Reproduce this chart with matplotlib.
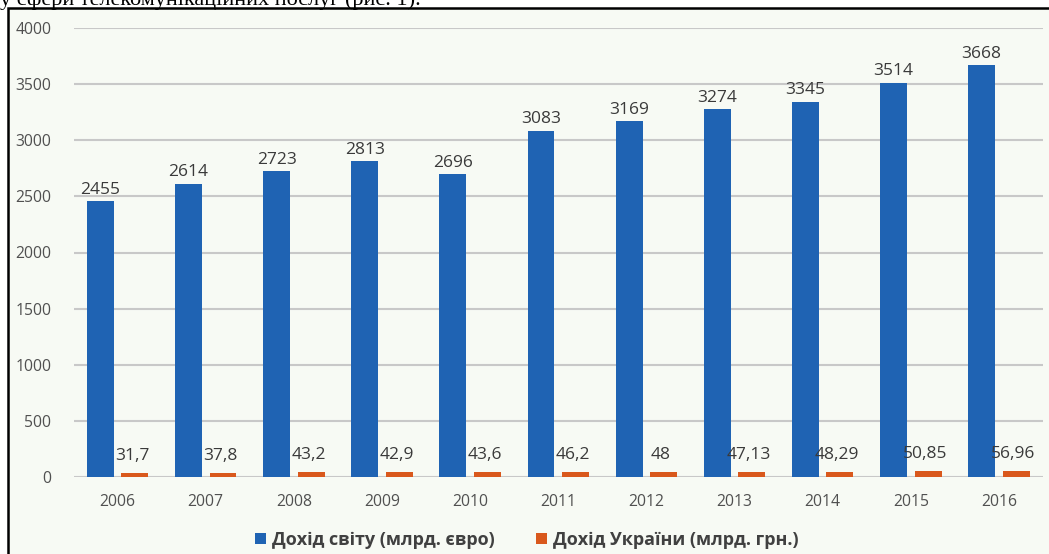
import matplotlib
matplotlib.use("Agg")
import matplotlib.pyplot as plt
from matplotlib.patches import Rectangle, Patch
import numpy as np

years = ["2006", "2007", "2008", "2009", "2010", "2011", "2012", "2013", "2014", "2015", "2016"]
world = [2455, 2614, 2723, 2813, 2696, 3083, 3169, 3274, 3345, 3514, 3668]
ukraine = [31.7, 37.8, 43.2, 42.9, 43.6, 46.2, 48, 47.13, 48.29, 50.85, 56.96]
ukraine_labels = ["31,7", "37,8", "43,2", "42,9", "43,6", "46,2", "48", "47,13", "48,29", "50,85", "56,96"]
yticks = [0, 500, 1000, 1500, 2000, 2500, 3000, 3500, 4000]
series_names = ["Дохід світу (млрд. євро)", "Дохід України (млрд. грн.)"]
top_text = "у сфери телекомунікаційних послуг (рис. 1)."

BLUE = "#1f63b3"
ORANGE = "#d9581c"
BG = "#f7faf4"
TXT = "#3a3a3a"

plt.rcParams['font.family'] = ['Open Sans', 'DejaVu Sans']

W, H = 1049, 554
fig = plt.figure(figsize=(W / 100, H / 100), dpi=100)
fig.patch.set_facecolor("white")

# chart frame
fig.add_artist(Rectangle((8 / W, -0.05), 1.2, 1 - 8 / H + 0.05, transform=fig.transFigure,
                         facecolor=BG, edgecolor="black", linewidth=1.8, zorder=0))

# partially visible text above the frame (cut at the top, as in the source image)
fig.text(0.0, 1 - 5 / H, top_text, family=['Liberation Serif', 'DejaVu Serif'],
         fontsize=16, color="black", ha="left", va="baseline")

ax = fig.add_axes([73.5 / W, 77 / H, (1043 - 73.5) / W, 449 / H])
ax.set_facecolor("none")

x = np.arange(len(years))
w = 0.305
off = 0.196
b1 = ax.bar(x - off, world, w, color=BLUE, zorder=3, label=series_names[0])
b2 = ax.bar(x + off, ukraine, w, color=ORANGE, zorder=3, label=series_names[1])

for rect, v in zip(b1, world):
    ax.annotate(f"{v}", (rect.get_x() + rect.get_width() / 2, rect.get_height()),
                xytext=(0, 2.5), textcoords="offset points", ha="center", va="bottom",
                fontsize=12.5, color=TXT)
for rect, lab in zip(b2, ukraine_labels):
    ax.annotate(lab, (rect.get_x() + rect.get_width() / 2 - 0.03, rect.get_height()),
                xytext=(0, 6.5), textcoords="offset points", ha="center", va="bottom",
                fontsize=12.5, color=TXT)

ax.set_xlim(-0.5, len(years) - 0.5)
ax.set_ylim(0, 4000)
ax.set_yticks(yticks)
ax.set_yticklabels([str(t) for t in yticks])
ax.set_xticks(x)
ax.set_xticklabels(years)
ax.tick_params(axis="both", length=0, labelsize=11.3, labelcolor="#505050")
ax.tick_params(axis="y", pad=16)
ax.tick_params(axis="x", pad=12)
ax.yaxis.grid(True, color="#c8c8c8", linewidth=1.5, zorder=0)
ax.set_axisbelow(True)
for s in ax.spines.values():
    s.set_visible(False)

handles = [Patch(facecolor=BLUE), Patch(facecolor=ORANGE)]
leg = fig.legend(handles, series_names, loc="center", bbox_to_anchor=(527 / W, 1 - 540 / H),
                 ncol=2, frameon=False, handlelength=0.6, handleheight=0.6,
                 handletextpad=0.35, columnspacing=2.3,
                 prop={'family': ['Open Sans', 'DejaVu Sans'], 'weight': 'bold', 'size': 13})
for t in leg.get_texts():
    t.set_color("#404040")

fig.savefig("out.png", dpi=100)
